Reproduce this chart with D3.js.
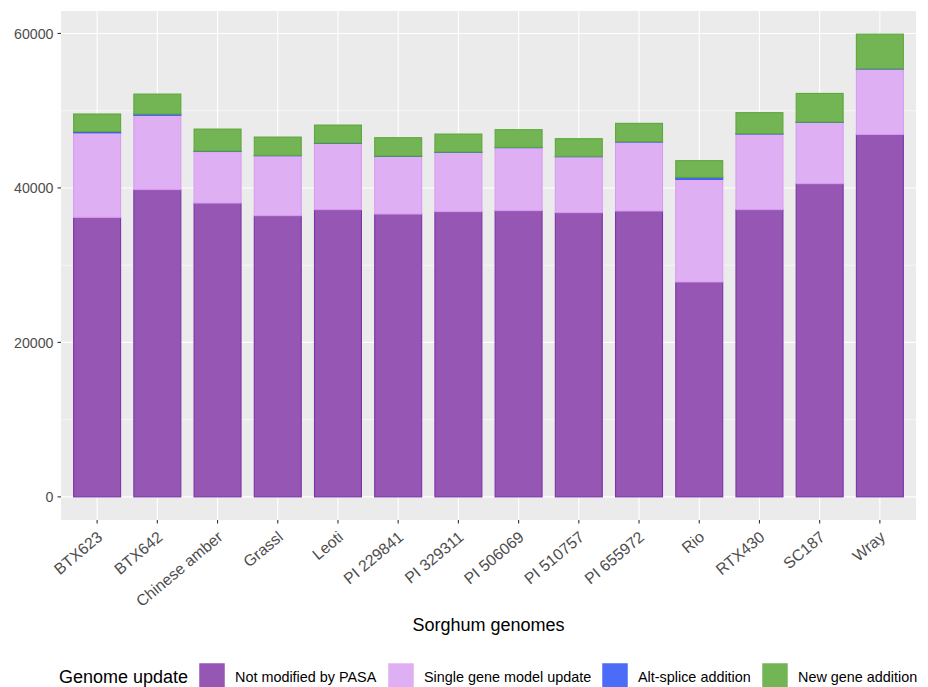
<!DOCTYPE html>
<html><head><meta charset="utf-8">
<script src="https://cdn.jsdelivr.net/npm/d3@7"></script>
<style>body{margin:0;background:#fff;} svg{display:block;font-family:"Liberation Sans",Arial,sans-serif;}</style>
</head><body>
<svg id="c" width="928" height="687"></svg>
<script>
const categories = ["BTX623","BTX642","Chinese amber","Grassl","Leoti","PI 229841","PI 329311","PI 506069","PI 510757","PI 655972","Rio","RTX430","SC187","Wray"];
const notModified = [36190,39780,38040,36410,37190,36620,36930,37060,36800,37010,27820,37190,40550,46930];
const singleGene  = [10950,9630,6680,7760,8570,7460,7670,8150,7240,8930,13300,9790,7930,8460];
const altSplice   = [150,150,50,45,50,45,45,40,45,50,250,45,45,45];
const newGene     = [2280,2590,2850,2370,2330,2380,2330,2290,2290,2370,2160,2720,3710,4480];
const seriesNames = ["Not modified by PASA","Single gene model update","Alt-splice addition","New gene addition"];
const fills   = ["#9656b3","#dfaff4","#4a6cf7","#73b455"];
const strokes = ["#7d33a8","#d79cf0","#3558f2","#5ea83c"];
const yTicks = [0,20000,40000,60000];
const yMinor = [10000,30000,50000];

const svg = d3.select("#c");
const L = 61, R = 916, T = 11, B = 520;
// ggplot discrete: expansion 0.6 units each side
const x = d3.scalePoint().domain(categories).range([L,R]).padding(0.6);
const unit = x.step();
const xc = c => x(c);
const bw = unit*0.78;
const y = d3.scaleLinear().domain([-2996, 62908]).range([B,T]);

svg.append("rect").attr("x",L).attr("y",T).attr("width",R-L).attr("height",B-T).attr("fill","#ebebeb");
svg.append("g").selectAll("line").data(yMinor).join("line")
  .attr("x1",L).attr("x2",R).attr("y1",d=>y(d)).attr("y2",d=>y(d)).attr("stroke","#fff").attr("stroke-width",0.55);
svg.append("g").selectAll("line").data(yTicks).join("line")
  .attr("x1",L).attr("x2",R).attr("y1",d=>y(d)).attr("y2",d=>y(d)).attr("stroke","#fff").attr("stroke-width",1.1);
svg.append("g").selectAll("line").data(categories).join("line")
  .attr("x1",d=>xc(d)).attr("x2",d=>xc(d)).attr("y1",T).attr("y2",B).attr("stroke","#fff").attr("stroke-width",1.1);

const series = [notModified, singleGene, altSplice, newGene];
const rows = categories.map((c,i)=>{const o={cat:c}; seriesNames.forEach((s,k)=>o[s]=series[k][i]); return o;});
const stack = d3.stack().keys(seriesNames)(rows);
stack.forEach((layer,k)=>{
  svg.append("g").selectAll("rect").data(layer).join("rect")
    .attr("x",d=>xc(d.data.cat)-bw/2).attr("width",bw)
    .attr("y",d=>y(d[1])).attr("height",d=>y(d[0])-y(d[1]))
    .attr("fill",fills[k]).attr("stroke",strokes[k]).attr("stroke-width",1.1);
});

// y axis
const ya = svg.append("g");
yTicks.forEach(t=>{
  ya.append("line").attr("x1",L-3.5).attr("x2",L).attr("y1",y(t)).attr("y2",y(t)).attr("stroke","#333").attr("stroke-width",1.1);
  ya.append("text").attr("x",L-7.5).attr("y",y(t)).attr("dy","0.36em").attr("text-anchor","end")
    .attr("font-size",14.2).attr("fill","#4d4d4d").text(d3.format("d")(t));
});
// x axis
const xa = svg.append("g");
categories.forEach(c=>{
  const cx = xc(c);
  xa.append("line").attr("x1",cx).attr("x2",cx).attr("y1",B).attr("y2",B+3.5).attr("stroke","#333").attr("stroke-width",1.1);
  xa.append("text").attr("transform",`translate(${cx-1},${B+10}) rotate(-40)`)
    .attr("text-anchor","end").attr("dy","0.72em").attr("font-size",15.8).attr("fill","#4d4d4d").text(c);
});
svg.append("text").attr("x",(L+R)/2).attr("y",631).attr("text-anchor","middle").attr("font-size",18).attr("fill","#000").text("Sorghum genomes");

// legend
const lg = svg.append("g");
lg.append("text").attr("x",59).attr("y",683).attr("font-size",18).attr("fill","#000").text("Genome update");
const keyX = [199,388,602,762];
seriesNames.forEach((s,k)=>{
  lg.append("rect").attr("x",keyX[k]).attr("y",663).attr("width",26).attr("height",26).attr("fill",fills[k]).attr("stroke","#fff").attr("stroke-width",0.5);
  lg.append("text").attr("x",keyX[k]+36).attr("y",682).attr("font-size",14.4).attr("fill","#000").text(s);
});
</script>
</body></html>
